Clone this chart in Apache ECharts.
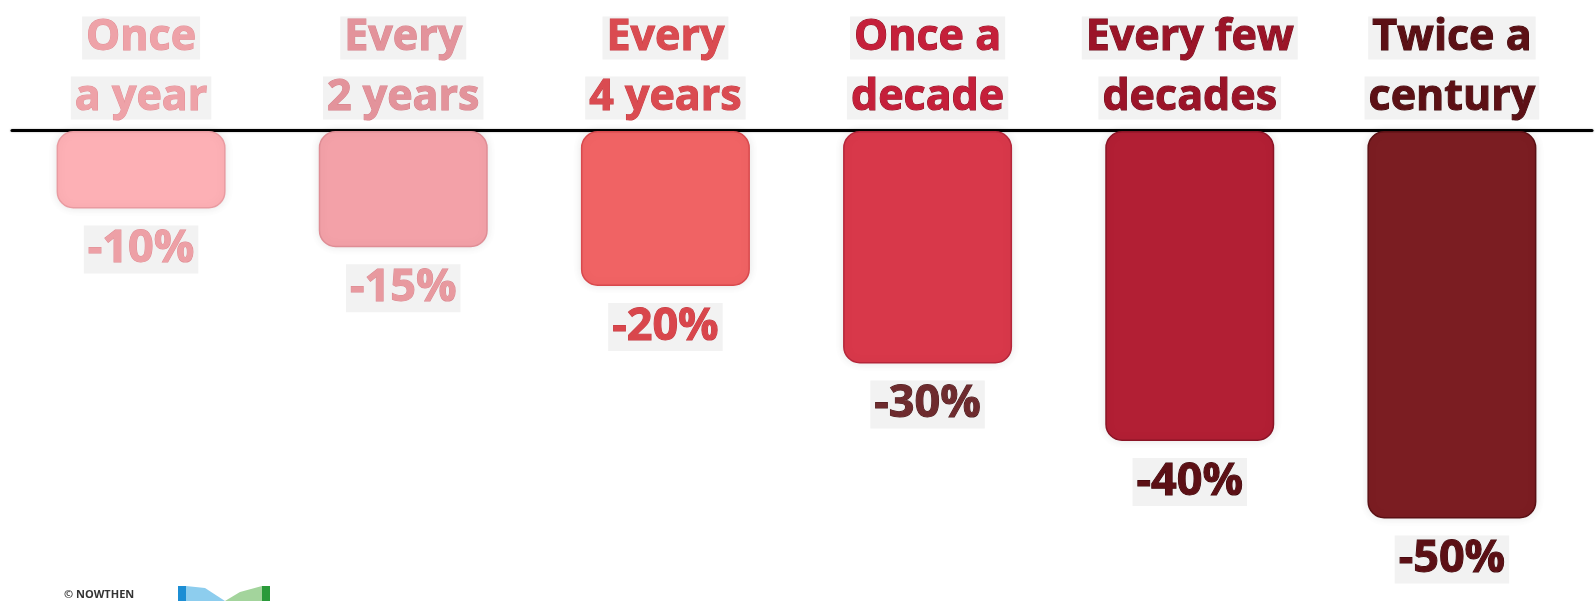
<!DOCTYPE html>
<html>
<head>
<meta charset="utf-8">
<script src="https://cdn.jsdelivr.net/npm/echarts@6/dist/echarts.min.js"></script>
<style>
html,body{margin:0;padding:0;background:#fff;}
#chart{width:1595px;height:601px;}
</style>
</head>
<body>
<div id="chart"></div>
<script>
const categories = ['Once\na year', 'Every\n2 years', 'Every\n4 years', 'Once a\ndecade', 'Every few\ndecades', 'Twice a\ncentury'];
const values = [-10, -15, -20, -30, -40, -50];
const barColors = ['#FDB0B5', '#F3A1A8', '#F06364', '#D8384A', '#B21F34', '#7B1D22'];
const barBorders = ['#E99BA1', '#DF8D95', '#D8494D', '#B5263A', '#8B1426', '#5A1014'];
const catColors = ['#EEA2A8', '#E3939B', '#DA4B51', '#C51F3A', '#9B1428', '#5C1015'];
const catBorders = ['#E28E95', '#D58089', '#C63A40', '#8F1222', '#6A0A18', '#3A0508'];
const valColors = ['#EDA0A6', '#E8999F', '#D9464C', '#6E2B2E', '#5C1015', '#5C1015'];
const valBorders = ['#E08B92', '#DA8890', '#C33A40', '#4A1A1C', '#3A0508', '#3A0508'];

const chart = echarts.init(document.getElementById('chart'));
const FONT = '"Open Sans", "Noto Sans", sans-serif';

const rich = {};
categories.forEach((c, i) => {
  rich['c' + i] = {
    color: catColors[i],
    fontFamily: FONT,
    fontWeight: 'bold',
    fontSize: 43,
    lineHeight: 60,
    textBorderColor: catBorders[i],
    textBorderWidth: 1,
    backgroundColor: '#f2f2f2',
    padding: [0, 4]
  };
});

chart.setOption({
  animation: false,
  backgroundColor: '#ffffff',
  grid: [
    { left: 10, right: 12, top: 131, bottom: 5 },
    { left: 12, right: 3, top: 130, height: 1 }
  ],
  xAxis: [
    {
      type: 'category',
      gridIndex: 0,
      data: categories,
      position: 'top',
      axisLine: { show: false },
      axisTick: { show: false },
      axisLabel: {
        margin: 3,
        interval: 0,
        formatter: function (v, i) {
          return v.split('\n').map(l => '{c' + i + '|' + l + '}').join('\n');
        },
        rich: rich
      }
    },
    {
      type: 'value',
      gridIndex: 1,
      min: 0, max: 1,
      position: 'top',
      axisLine: { show: true, onZero: false, lineStyle: { color: '#000', width: 3, shadowColor: 'rgba(0,0,0,0.35)', shadowBlur: 2 } },
      axisTick: { show: false },
      axisLabel: { show: false },
      splitLine: { show: false }
    }
  ],
  yAxis: [
    {
      type: 'value', gridIndex: 0, min: -60, max: 0,
      show: false, splitLine: { show: false }
    },
    {
      type: 'value', gridIndex: 1, show: false, splitLine: { show: false }
    }
  ],
  series: [{
    type: 'bar',
    xAxisIndex: 0,
    yAxisIndex: 0,
    barWidth: 169,
    data: values.map((v, i) => ({
      value: v,
      itemStyle: {
        color: barColors[i],
        borderColor: barBorders[i],
        borderWidth: 1.5,
        borderRadius: 16,
        shadowColor: 'rgba(0,0,0,0.10)',
        shadowBlur: 10
      },
      label: {
        color: valColors[i],
        textBorderColor: valBorders[i]
      }
    })),
    label: {
      show: true,
      position: 'bottom',
      distance: 17,
      formatter: p => p.value + '%',
      fontFamily: FONT,
      fontWeight: 'bold',
      fontSize: 45,
      lineHeight: 48,
      textBorderWidth: 1,
      backgroundColor: '#f2f2f2',
      padding: [0, 4]
    }
  }],
  graphic: [
    { type: 'text', left: 64, top: 589, style: { text: '© NOWTHEN', fill: '#333', font: 'bold 11px "Open Sans", sans-serif' } },
    { type: 'rect', shape: { x: 178, y: 586, width: 8, height: 15 }, style: { fill: '#1C8ED4' } },
    { type: 'polygon', shape: { points: [[186, 586], [205, 588], [225, 601], [186, 601]] }, style: { fill: '#8DCDEE' } },
    { type: 'polygon', shape: { points: [[225, 601], [240, 592], [262, 586], [262, 601]] }, style: { fill: '#A3D49C' } },
    { type: 'rect', shape: { x: 262, y: 586, width: 8, height: 15 }, style: { fill: '#2A9A3A' } }
  ]
});
</script>
</body>
</html>
